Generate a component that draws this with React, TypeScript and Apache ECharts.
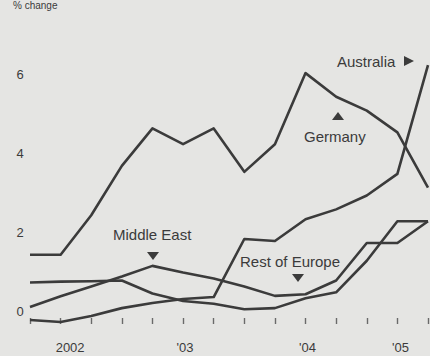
import React, { useEffect, useRef } from "react";
import * as echarts from "echarts";

const categories = [
  "2002 Q1", "2002 Q2", "2002 Q3", "2002 Q4",
  "2003 Q1", "2003 Q2", "2003 Q3", "2003 Q4",
  "2004 Q1", "2004 Q2", "2004 Q3", "2004 Q4",
  "2005 Q1", "2005 Q2",
];

const germany = [1.6, 1.6, 2.6, 3.85, 4.8, 4.4, 4.8, 3.7, 4.4, 6.2, 5.6, 5.25, 4.7, 3.3];
const australia = [-0.05, -0.1, 0.05, 0.25, 0.38, 0.48, 0.53, 2.0, 1.95, 2.5, 2.75, 3.1, 3.65, 6.4];
const middleEast = [0.28, 0.55, 0.8, 1.05, 1.32, 1.15, 1.0, 0.8, 0.56, 0.6, 0.95, 1.9, 1.9, 2.45];
const restOfEurope = [0.9, 0.92, 0.93, 0.95, 0.62, 0.43, 0.36, 0.22, 0.25, 0.5, 0.65, 1.45, 2.45, 2.45];

const yearLabelIndices = [1, 5, 9, 12];
const yearLabels = ["2002", "'03", "'04", "'05"];
const yearLabelStyles = ["a", "b", "b", "c"];

const INK = "#3b3b3b";
const FONT = "Liberation Sans, Arial, sans-serif";

export default function App() {
  const ref = useRef<HTMLDivElement>(null);

  useEffect(() => {
    if (!ref.current) return;
    const chart = echarts.init(ref.current, undefined, { renderer: "svg" });

    const lineSeries = (name: string, data: number[]) => ({
      name,
      type: "line",
      data,
      symbol: "none",
      clip: false,
      lineStyle: { color: INK, width: 2.6, join: "round" },
      z: 3,
    });

    const labelStyle = (x: number, y: number, text: string, align = "left") => ({
      type: "text",
      x,
      y,
      style: {
        text,
        fill: INK,
        font: `15px ${FONT}`,
        textAlign: align,
        textVerticalAlign: "middle",
      },
      z: 10,
    });

    const tri = (points: number[][]) => ({
      type: "polygon",
      shape: { points },
      style: { fill: INK },
      z: 10,
    });

    chart.setOption({
      animation: false,
      backgroundColor: "#e5e5e3",
      textStyle: { fontFamily: FONT },
      grid: { left: 30, right: 2, top: 2, bottom: 38, containLabel: false },
      xAxis: {
        type: "category",
        data: categories,
        boundaryGap: false,
        axisLine: { show: false },
        axisTick: {
          show: true,
          interval: 0,
          length: 6,
          lineStyle: { color: "#6a6a6a", width: 1.4 },
        },
        axisLabel: {
          interval: (index: number) => yearLabelIndices.includes(index),
          margin: 23,
          color: INK,
          fontSize: 13,
          fontFamily: FONT,
          formatter: (_v: string, index: number) => {
            const k = yearLabelIndices.indexOf(index);
            return k >= 0 ? `{${yearLabelStyles[k]}|${yearLabels[k]}}` : "";
          },
          rich: {
            a: { padding: [0, 0, 0, 19], fontSize: 13, color: INK, fontFamily: FONT },
            b: { padding: [0, 0, 0, 4], fontSize: 13, color: INK, fontFamily: FONT },
            c: { padding: [0, 0, 0, 6], fontSize: 13, color: INK, fontFamily: FONT },
          },
        },
        splitLine: { show: false },
      },
      yAxis: {
        type: "value",
        min: 0,
        max: 8,
        interval: 2,
        axisLine: { show: false },
        axisTick: { show: false },
        splitLine: { show: false },
        axisLabel: {
          showMaxLabel: false,
          align: "center",
          verticalAlign: "bottom",
          margin: 10,
          color: INK,
          fontSize: 13,
          fontFamily: FONT,
        },
      },
      series: [
        lineSeries("Germany", germany),
        lineSeries("Australia", australia),
        lineSeries("Middle East", middleEast),
        lineSeries("Rest of Europe", restOfEurope),
      ],
      graphic: [
        {
          type: "text",
          x: 13,
          y: 0,
          style: { text: "% change", fill: INK, font: `10px ${FONT}` },
        },
        labelStyle(337, 61, "Australia"),
        tri([[404, 56], [404, 66], [414, 61]]),
        labelStyle(304, 136, "Germany"),
        tri([[332, 120], [344, 120], [338, 112]]),
        labelStyle(113, 234, "Middle East"),
        tri([[147, 252], [159, 252], [153, 260]]),
        labelStyle(240, 261, "Rest of Europe"),
        tri([[292, 274], [304, 274], [298, 282]]),
      ],
    });

    return () => chart.dispose();
  }, []);

  return (
    <div
      ref={ref}
      style={{ position: "absolute", left: 0, top: 0, width: 430, height: 356 }}
    />
  );
}
